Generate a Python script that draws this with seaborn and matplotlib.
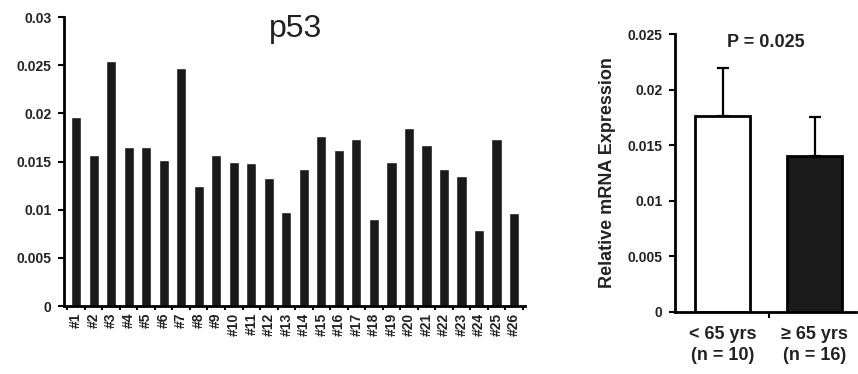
import matplotlib
matplotlib.use("Agg")
import matplotlib.pyplot as plt
import seaborn as sns
import pandas as pd
from matplotlib.ticker import FixedLocator

samples = ["#%d" % i for i in range(1, 27)]
p53_values = [0.0196, 0.0157, 0.0254, 0.0165, 0.0165, 0.0152, 0.0247, 0.0125,
              0.0157, 0.0150, 0.0148, 0.0133, 0.0098, 0.0142, 0.0176, 0.0162,
              0.0173, 0.0090, 0.0150, 0.0185, 0.0167, 0.0142, 0.0135, 0.0079,
              0.0173, 0.0097]
left_yticks = [0, 0.005, 0.01, 0.015, 0.02, 0.025, 0.03]
left_ytick_labels = ["0", "0.005", "0.01", "0.015", "0.02", "0.025", "0.03"]

groups = ["< 65 yrs\n(n = 10)", "\u2265 65 yrs\n(n = 16)"]
group_means = [0.0176, 0.0140]
group_err = [0.0043, 0.0035]
group_colors = ["white", "#1a1a1a"]
right_yticks = [0, 0.005, 0.01, 0.015, 0.02, 0.025]
right_ytick_labels = ["0", "0.005", "0.01", "0.015", "0.02", "0.025"]

sns.set_style("white")
plt.rcParams["font.family"] = ["Liberation Sans", "DejaVu Sans"]
plt.rcParams["axes.linewidth"] = 2.0

fig = plt.figure(figsize=(8.58, 3.74), dpi=100)
ax1 = fig.add_axes([0.0746, 0.1818, 0.5374, 0.7727])
ax2 = fig.add_axes([0.7867, 0.1666, 0.2110, 0.7424])

dark = "#1a1a1a"

# Left panel
df1 = pd.DataFrame({"sample": samples, "value": p53_values})
sns.barplot(data=df1, x="sample", y="value", color=dark, width=0.58,
            saturation=1, ax=ax1, errorbar=None)
ax1.set_xlim(-0.69, 25.63)
ax1.set_ylim(0, 0.03)
ax1.set_yticks(left_yticks)
ax1.set_yticklabels(left_ytick_labels, fontsize=10, fontweight="bold", color="#222222")
ax1.set_xticks(range(len(samples)))
ax1.set_xticklabels(samples, rotation=90, fontsize=10, fontweight="bold", color="#222222")
ax1.tick_params(axis="x", which="major", length=0, pad=5)
ax1.xaxis.set_minor_locator(FixedLocator([i + 0.5 for i in range(-1, len(samples))]))
ax1.tick_params(axis="x", which="minor", length=3, width=1.5, direction="out", color="black", bottom=True)
ax1.tick_params(axis="y", length=4, width=1.5, direction="out", color="black", left=True, pad=5)
ax1.set_xlabel("")
ax1.set_ylabel("")
for s in ["top", "right"]:
    ax1.spines[s].set_visible(False)
for s in ["left", "bottom"]:
    ax1.spines[s].set_color("black")
ax1.text(0.503, 0.96, "p53", transform=ax1.transAxes, ha="center", va="center",
         fontsize=23, color="#222222")

# Right panel
df2 = pd.DataFrame({"group": groups, "mean": group_means})
sns.barplot(data=df2, x="group", y="mean", hue="group", palette=group_colors,
            width=0.6, saturation=1, ax=ax2, errorbar=None, legend=False,
            edgecolor="black", linewidth=2)
ax2.errorbar(range(len(groups)), group_means, yerr=[[0, 0], group_err],
             fmt="none", ecolor="black", elinewidth=1.6, capsize=4, capthick=1.6)
ax2.set_xlim(-0.52, 1.45)
ax2.set_ylim(0, 0.025)
ax2.set_yticks(right_yticks)
ax2.set_yticklabels(right_ytick_labels, fontsize=10, fontweight="bold", color="#222222")
ax2.set_xticks(range(len(groups)))
ax2.set_xticklabels(groups, fontsize=13, fontweight="bold", linespacing=1.35, color="#222222")
ax2.tick_params(axis="x", which="major", length=0, pad=10)
ax2.xaxis.set_minor_locator(FixedLocator([0.5]))
ax2.tick_params(axis="x", which="minor", length=4, width=1.5, direction="out", color="black", bottom=True)
ax2.tick_params(axis="y", length=4, width=1.5, direction="out", color="black", left=True, pad=5)
ax2.set_xlabel("")
ax2.set_ylabel("Relative mRNA Expression", fontsize=13, fontweight="bold", labelpad=8, color="#222222")
for s in ["top", "right"]:
    ax2.spines[s].set_visible(False)
for s in ["left", "bottom"]:
    ax2.spines[s].set_color("black")
ax2.text(0.5, 0.97, "P = 0.025", transform=ax2.transAxes, ha="center", va="center",
         fontsize=13, fontweight="bold", color="#222222")

fig.savefig("out.png", dpi=100)
